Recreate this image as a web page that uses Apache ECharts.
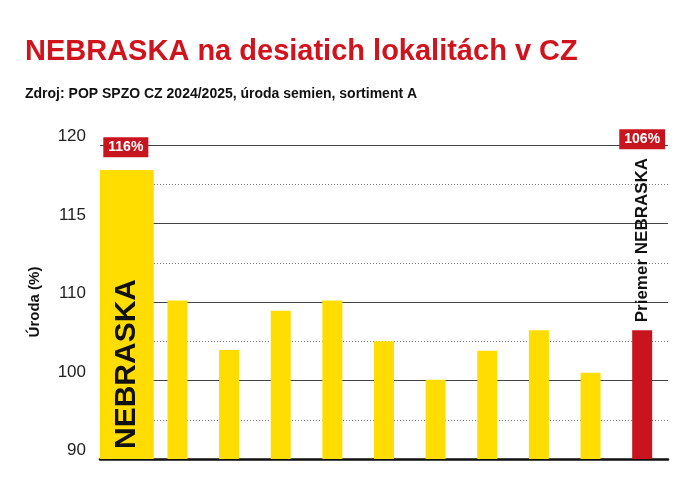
<!DOCTYPE html>
<html><head><meta charset="utf-8">
<script src="https://cdn.jsdelivr.net/npm/echarts@6/dist/echarts.min.js"></script>
<style>body{margin:0}#c{width:700px;height:478px}</style></head>
<body><div id="c"></div>
<script>
var categories = ['NEBRASKA','L2','L3','L4','L5','L6','L7','L8','L9','L10','Priemer NEBRASKA'];
var values = [118.4, 110.1, 103.9, 108.9, 110.1, 105, 100.1, 103.8, 106.4, 101, 106.4];
var tickValues = [90, 100, 110, 115, 120];
var callouts = ['116%', '106%'];

// the axis is broken: 90-110 in steps of 10, 110-120 in steps of 5, each label step same height
function pos(v) { return v <= 110 ? (v - 90) / 5 : 4 + (v - 110) / 2.5; }

var FONT = '"Liberation Sans", Arial';
var mainData = [], yellowData = [];
values.forEach(function (v, i) {
    if (i === 0) { mainData.push(pos(v)); yellowData.push('-'); }
    else {
        yellowData.push({ value: pos(v), itemStyle: { color: i === values.length - 1 ? '#c8141e' : '#ffdd00' } });
        mainData.push('-');
    }
});

var calloutLabel = function (text) {
    return { show: true, position: 'top', formatter: text, backgroundColor: '#c8141e', color: '#fff',
        fontFamily: FONT, fontWeight: 'bold', fontSize: 14, padding: [3, 5] };
};
yellowData[10].label = { show: true, position: [10, -8], rotate: 90, align: 'left', verticalAlign: 'middle',
    formatter: categories[10], color: '#111', fontFamily: FONT, fontWeight: 'bold', fontSize: 17 };

var myChart = echarts.init(document.getElementById('c'));
var option = {
    animation: false,
    title: [
        { text: 'NEBRASKA na desiatich lokalitách v CZ', left: 20, top: 32,
          textStyle: { color: '#d0141e', fontFamily: FONT, fontWeight: 'bold', fontSize: 29 } },
        { text: 'Zdroj: POP SPZO CZ 2024/2025, úroda semien, sortiment A', left: 20, top: 82,
          textStyle: { color: '#111', fontFamily: FONT, fontWeight: 'bold', fontSize: 14 } }
    ],
    grid: { left: 100, right: 32, top: 145, bottom: 19 },
    xAxis: [
        { type: 'category', data: categories, axisLabel: { show: false }, axisTick: { show: false },
          axisLine: { lineStyle: { color: '#111', width: 2.5 } } },
        { type: 'category', data: categories, show: false }
    ],
    yAxis: {
        type: 'value', min: 0, max: 8, interval: 2,
        name: 'Úroda (%)', nameLocation: 'middle', nameGap: 58, nameRotate: 90,
        nameTextStyle: { color: '#111', fontFamily: FONT, fontWeight: 'bold', fontSize: 15 },
        axisLabel: { formatter: function (p) { return tickValues[p / 2]; }, color: '#222', fontSize: 17,
            fontFamily: FONT, margin: 14, verticalAlign: 'bottom' },
        splitLine: { lineStyle: { color: '#444', width: 1.2 } },
        minorTick: { show: false, splitNumber: 2 },
        minorSplitLine: { show: true, lineStyle: { color: '#777', type: [1, 2], width: 1 } }
    },
    series: [
        { type: 'bar', xAxisIndex: 0, barWidth: 56, data: mainData, itemStyle: { color: '#ffdd00' },
          label: { show: true, position: 'insideBottom', rotate: 90, align: 'left', verticalAlign: 'middle',
            formatter: categories[0], color: '#111', fontFamily: FONT, fontWeight: 'bold', fontSize: 30, distance: 10 },
          z: 2 },
        { type: 'bar', xAxisIndex: 1, barWidth: 20, data: yellowData, z: 2 },
        { type: 'scatter', xAxisIndex: 0, symbolSize: 1, silent: true, z: 5,
          itemStyle: { opacity: 1, color: 'rgba(0,0,0,0)' },
          data: [{ value: [0, 7.55], label: calloutLabel(callouts[0]) },
                 { value: [10, 7.75], label: calloutLabel(callouts[1]) }] }
    ]
};
myChart.setOption(option, true);
</script></body></html>
